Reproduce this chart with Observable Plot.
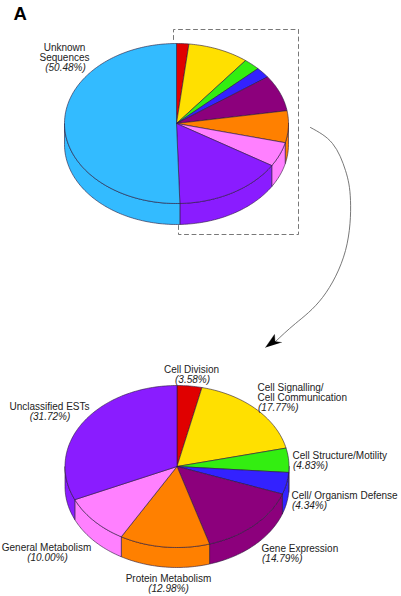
<!DOCTYPE html>
<html>
<head>
<meta charset="utf-8">
<script src="https://cdn.jsdelivr.net/npm/d3@7"></script>
<script src="https://cdn.jsdelivr.net/npm/@observablehq/plot@0.6"></script>
<style>body{margin:0;background:#fff}svg{display:block}</style>
</head>
<body>
<div id="chart"></div>
<script>
// ---- data ----
const categories = ["Cell Division","Cell Signalling/\nCell Communication","Cell Structure/Motility","Cell/ Organism Defense","Gene Expression","Protein Metabolism","General Metabolism","Unclassified ESTs"];
const shares = [3.58,17.77,4.83,4.34,14.79,12.98,10.00,31.72];
const shareLabels = ["(3.58%)","(17.77%)","(4.83%)","(4.34%)","(14.79%)","(12.98%)","(10.00%)","(31.72%)"];
const unknownName = "Unknown\nSequences";
const unknownShare = 50.48;
const unknownLabel = "(50.48%)";
const colors = ["#e00000","#ffe000","#33ee11","#3322ff","#8c007c","#ff8000","#ff80ff","#8a1cff"];
const unknownColor = "#33bbff";

// ---- layout ----
const topPie = {cx:176, cy:123, rx:112, ry:80, depth:21};
const bottomPie = {cx:176.5, cy:466, rx:112, ry:81, depth:20};
const ink = "#222";
// label anchors per category: name x, name last-line baseline, share x, share baseline, text anchor
const labelPos = [
  [191,372,192,382,"middle"],
  [257,400,257.5,410,"start"],
  [292,458.5,292.5,468.5,"start"],
  [291,498,291.5,508,"start"],
  [261,551,261.5,561,"start"],
  [168,581,168,591,"middle"],
  [46,550,47,560,"middle"],
  [49,409,49.5,419,"middle"]
];
const unknownPos = [64,60,65,70,"middle"];

// slices of the top pie: the classified part is the remainder of the Unknown share
const classified = 100 - unknownShare;
const topValues = [...shares.map(s => s * classified / 100), unknownShare];
const topColors = [...colors, unknownColor];

function pt(p, t, dy = 0) {
  return {x: p.cx + p.rx * Math.sin(t), y: p.cy - p.ry * Math.cos(t) + dy};
}
function arc(p, a, b, dy = 0) {
  const n = Math.max(2, Math.ceil((b - a) / 0.02));
  return d3.range(n + 1).map(i => pt(p, a + (b - a) * i / n, dy));
}
function pieRows(p, values, cols, prefix) {
  const total = d3.sum(values), walls = [], faces = [];
  let acc = 0;
  values.forEach((v, i) => {
    const a = acc / total * 2 * Math.PI; acc += v;
    const b = acc / total * 2 * Math.PI;
    const id = prefix + i;
    faces.push(...[{x: p.cx, y: p.cy}, ...arc(p, a, b), {x: p.cx, y: p.cy}].map(d => ({...d, id: id + "f", c: cols[i]})));
    const lo = Math.max(a, Math.PI / 2), hi = Math.min(b, 3 * Math.PI / 2);
    if (hi > lo) {
      const top = arc(p, lo, hi), bot = arc(p, lo, hi, p.depth).reverse();
      walls.push(...[...top, ...bot, top[0]].map(d => ({...d, id: id + "w", c: cols[i]})));
    }
  });
  return [...walls, ...faces];
}
const rows = [...pieRows(topPie, topValues, topColors, "t"), ...pieRows(bottomPie, shares, colors, "b")];

const names = [...categories.map((t, i) => ({t, x: labelPos[i][0], y: labelPos[i][1], a: labelPos[i][4]})), {t: unknownName, x: unknownPos[0], y: unknownPos[1], a: unknownPos[4]}];
const pcts = [...shareLabels.map((t, i) => ({t, x: labelPos[i][2], y: labelPos[i][3], a: labelPos[i][4]})), {t: unknownLabel, x: unknownPos[2], y: unknownPos[3], a: unknownPos[4]}];

const dashBox = [[178,225],[178,234],[298,234],[298,29],[173,29],[173,42]].map(([x,y]) => ({x,y}));
const curveGuide = [[310,127],[332,143],[345,170],[350,200],[345,250],[322,297],[295,323],[274,342]].map(([x,y]) => ({x,y}));
const head = [[265,347],[274,334],[274.5,341],[281,342]].map(([x,y]) => ({x,y}));

const textOpts = {x:"x", y:"y", text:"t", lineAnchor:"bottom", lineHeight:1, fill:ink, fontSize:10, fontFamily:"Liberation Sans"};
const byAnchor = (list, extra) => ["start","middle"].map(a => Plot.text(list.filter(d => d.a === a), {...textOpts, ...extra, textAnchor:a}));

const plot = Plot.plot({
  width: 401, height: 596, margin: 0,
  x: {domain: [0, 401], range: [0, 401], axis: null},
  y: {domain: [0, 596], range: [0, 596], axis: null},
  marks: [
    Plot.line(dashBox, {x:"x", y:"y", stroke:"#555", strokeWidth:0.8, strokeDasharray:"4 3.5"}),
    Plot.line(rows, {x:"x", y:"y", z:"id", fill:"c", stroke:"#2a1a3a", strokeWidth:0.6, strokeLinejoin:"round", curve:"linear"}),
    Plot.line(curveGuide, {x:"x", y:"y", stroke:"#555", strokeWidth:0.8, curve:"natural"}),
    Plot.line(head, {x:"x", y:"y", fill:"#000", stroke:"#000", strokeWidth:0.4}),
    ...byAnchor(names, {}),
    ...byAnchor(pcts, {fontStyle:"italic"}),
    Plot.text(["A"], {x:[13], y:[19], text:d => d, textAnchor:"start", lineAnchor:"bottom", fill:"#000", fontSize:18.5, fontWeight:"bold", fontFamily:"Liberation Sans"})
  ]
});
document.getElementById("chart").append(plot);
</script>
</body>
</html>
